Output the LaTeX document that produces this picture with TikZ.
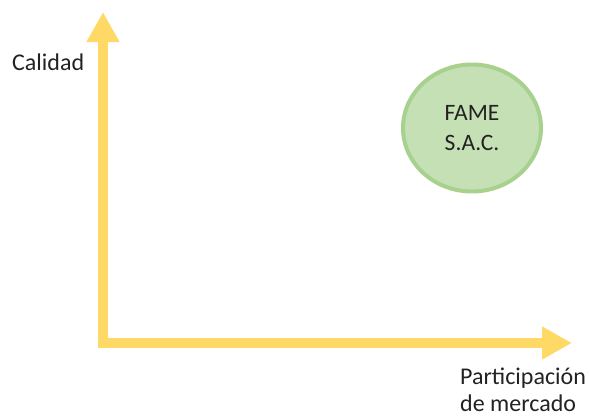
\documentclass[tikz,border=0pt]{standalone}
\usepackage{fontspec}
\setmainfont{Carlito}
\usetikzlibrary{arrows.meta,shapes.geometric}
\definecolor{axisyellow}{HTML}{FFD966}
\definecolor{circfill}{HTML}{C5E0B4}
\definecolor{circdraw}{HTML}{A9D18E}
\definecolor{txt}{HTML}{222222}
\tikzset{
  axisline/.style={draw=axisyellow, line width=10pt, line join=miter,
    {Triangle[width=31pt,length=30pt]}-{Triangle[width=31pt,length=30pt]}},
  lbl/.style={font=\fontsize{24}{27}\selectfont, text=txt, inner sep=0pt},
  bubble/.style={ellipse, draw=circdraw, fill=circfill, line width=4pt,
    minimum width=138pt, minimum height=127pt, inner sep=0pt, align=center,
    font=\fontsize{23.5}{30}\selectfont, text=txt}
}
\begin{document}
\begin{tikzpicture}[x=1pt,y=-1pt]
\useasboundingbox (0,0) rectangle (590,416);
\coordinate (ytip) at (103,12);
\coordinate (corner) at (103,343);
\coordinate (xtip) at (572,343);
\draw[axisline] (ytip) -- (corner) -- (xtip);
\node[lbl, anchor=base west] (cal) at (12,70) {Calidad};
\node[lbl, anchor=base west, align=left] (part) at (460,411) {Participación\\de mercado};
\node[bubble] (fame) at (472,128) {FAME\\S.A.C.};
\end{tikzpicture}
\end{document}
